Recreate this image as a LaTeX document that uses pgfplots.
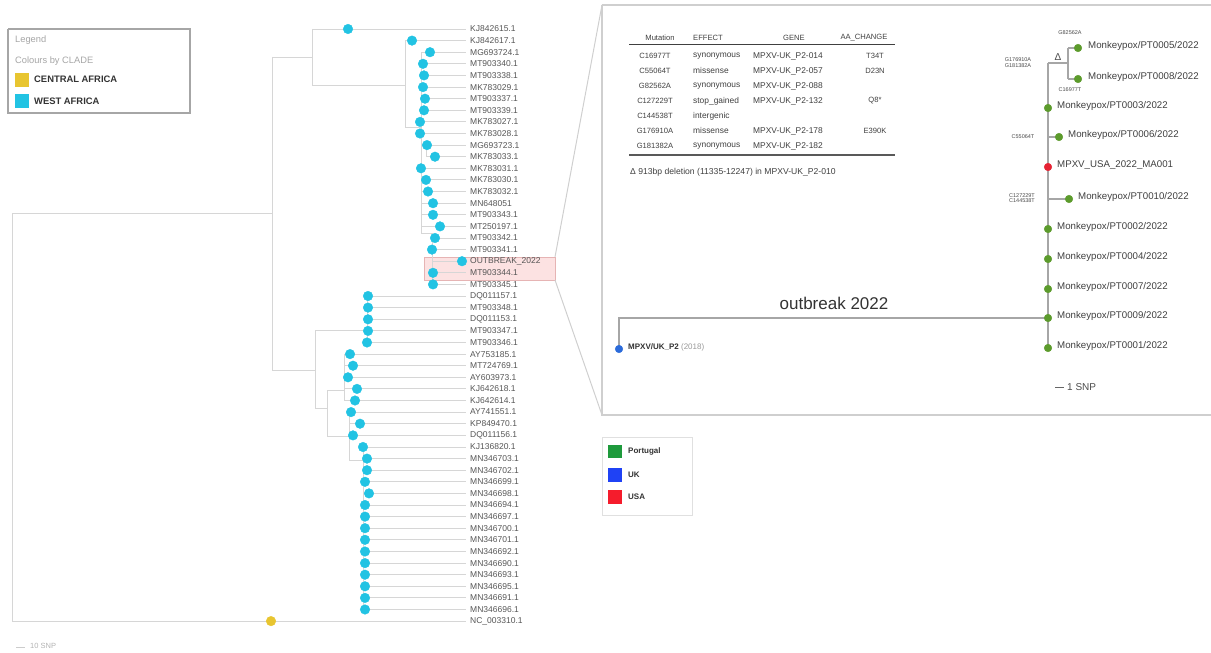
\documentclass[border=0pt]{standalone}
\usepackage{fontspec}
\setmainfont{Liberation Sans}
\usepackage{pgfplots}
\pgfplotsset{compat=1.18}
\usepackage{pgfplotstable}

\definecolor{treeline}{HTML}{D6D6D6}
\definecolor{westafrica}{HTML}{22C3E3}
\definecolor{centralafrica}{HTML}{E8C530}
\definecolor{pinkfill}{HTML}{FCE2E2}
\definecolor{pinkline}{HTML}{E6B4B4}
\definecolor{insetline}{HTML}{CFCFCF}
\definecolor{labelgray}{HTML}{555555}
\definecolor{ptgreen}{HTML}{5C9B2C}
\definecolor{ukblue}{HTML}{2B6BDA}
\definecolor{usared}{HTML}{E62233}
\definecolor{legpt}{HTML}{1E9A3C}
\definecolor{leguk}{HTML}{1F42F5}
\definecolor{legusa}{HTML}{F51C2C}

% tip labels of the big tree (label x, y, name)
\pgfplotstableread{
x y label
470 29.0 KJ842615.1
470 40.6 KJ842617.1
470 52.2 MG693724.1
470 63.8 MT903340.1
470 75.4 MT903338.1
470 87.1 MK783029.1
470 98.7 MT903337.1
470 110.3 MT903339.1
470 121.9 MK783027.1
470 133.5 MK783028.1
470 145.1 MG693723.1
470 156.7 MK783033.1
470 168.3 MK783031.1
470 179.9 MK783030.1
470 191.5 MK783032.1
470 203.2 MN648051
470 214.8 MT903343.1
470 226.4 MT250197.1
470 238.0 MT903342.1
470 249.6 MT903341.1
470 261.2 OUTBREAK\_2022
470 272.8 MT903344.1
470 284.4 MT903345.1
470 296.0 DQ011157.1
470 307.6 MT903348.1
470 319.3 DQ011153.1
470 330.9 MT903347.1
470 342.5 MT903346.1
470 354.1 AY753185.1
470 365.7 MT724769.1
470 377.3 AY603973.1
470 388.9 KJ642618.1
470 400.5 KJ642614.1
470 412.1 AY741551.1
470 423.7 KP849470.1
470 435.4 DQ011156.1
470 447.0 KJ136820.1
470 458.6 MN346703.1
470 470.2 MN346702.1
470 481.8 MN346699.1
470 493.4 MN346698.1
470 505.0 MN346694.1
470 516.6 MN346697.1
470 528.2 MN346700.1
470 539.8 MN346701.1
470 551.5 MN346692.1
470 563.1 MN346690.1
470 574.7 MN346693.1
470 586.3 MN346695.1
470 597.9 MN346691.1
470 609.5 MN346696.1
470 621.1 NC\_003310.1
}\tiplabels

% tip labels of the outbreak tree
\pgfplotstableread{
x y label
1088 46 Monkeypox/PT0005/2022
1088 77 Monkeypox/PT0008/2022
1057 106 Monkeypox/PT0003/2022
1068 135 Monkeypox/PT0006/2022
1057 165 MPXV\_USA\_2022\_MA001
1078 197 Monkeypox/PT0010/2022
1057 227 Monkeypox/PT0002/2022
1057 257 Monkeypox/PT0004/2022
1057 287 Monkeypox/PT0007/2022
1057 316 Monkeypox/PT0009/2022
1057 346 Monkeypox/PT0001/2022
}\insetlabels

\newcommand{\tabfont}{\fontsize{7.6}{8}\selectfont}
\newcommand{\tabwide}{\fontsize{8.4}{9}\selectfont}
\newcommand{\mutfont}{\fontsize{5.5}{6}\selectfont}

\begin{document}
\begin{tikzpicture}
\begin{axis}[
  width=1211pt, height=653pt, scale only axis,
  xmin=0, xmax=1211, ymin=0, ymax=653,
  y dir=reverse,
  hide axis,
  unbounded coords=jump,
]

% highlight of the outbreak row
\addplot[fill=pinkfill, draw=pinkline, line width=0.8pt]
  coordinates {(424,257)(555,257)(555,280)(424,280)(424,257)};

% big tree branches
\addplot[treeline, line width=0.9pt] coordinates {
  (12,213)(12,621) (nan,nan)
  (12,213)(272,213) (nan,nan)
  (12,621)(466,621) (nan,nan)
  (272,57)(272,370) (nan,nan)
  (272,57)(312,57) (nan,nan)
  (312,29)(312,85) (nan,nan)
  (312,29)(466,29) (nan,nan)
  (312,85)(405,85) (nan,nan)
  (405,40.6)(405,127) (nan,nan)
  (405,40.6)(466,40.6) (nan,nan)
  (405,127)(421,127) (nan,nan)
  (421,52.2)(421,233) (nan,nan)
  (421,52.2)(466,52.2) (nan,nan)
  (421,63.8)(466,63.8) (nan,nan)
  (421,75.4)(466,75.4) (nan,nan)
  (421,87.1)(466,87.1) (nan,nan)
  (421,98.7)(466,98.7) (nan,nan)
  (421,110.3)(466,110.3) (nan,nan)
  (421,121.9)(466,121.9) (nan,nan)
  (421,133.5)(466,133.5) (nan,nan)
  (426,145.1)(426,156.7) (nan,nan)
  (421,145.1)(466,145.1) (nan,nan)
  (426,156.7)(466,156.7) (nan,nan)
  (421,168.3)(466,168.3) (nan,nan)
  (421,179.9)(466,179.9) (nan,nan)
  (421,191.5)(466,191.5) (nan,nan)
  (421,203.2)(466,203.2) (nan,nan)
  (421,214.8)(466,214.8) (nan,nan)
  (421,226.4)(466,226.4) (nan,nan)
  (421,233)(432,233) (nan,nan)
  (432,233)(432,284.4) (nan,nan)
  (432,238.0)(466,238.0) (nan,nan)
  (432,249.6)(466,249.6) (nan,nan)
  (432,261.2)(466,261.2) (nan,nan)
  (432,272.8)(466,272.8) (nan,nan)
  (432,284.4)(466,284.4) (nan,nan)
  (272,370)(315,370) (nan,nan)
  (315,330.9)(315,408) (nan,nan)
  (315,330.9)(367,330.9) (nan,nan)
  (367,296.0)(367,342.5) (nan,nan)
  (367,296.0)(466,296.0) (nan,nan)
  (367,307.6)(466,307.6) (nan,nan)
  (367,319.3)(466,319.3) (nan,nan)
  (367,330.9)(466,330.9) (nan,nan)
  (367,342.5)(466,342.5) (nan,nan)
  (315,408)(327,408) (nan,nan)
  (327,390)(327,436) (nan,nan)
  (327,390)(344,390) (nan,nan)
  (344,354.1)(344,400.5) (nan,nan)
  (344,354.1)(466,354.1) (nan,nan)
  (344,365.7)(466,365.7) (nan,nan)
  (344,377.3)(466,377.3) (nan,nan)
  (344,388.9)(466,388.9) (nan,nan)
  (344,400.5)(466,400.5) (nan,nan)
  (327,436)(349,436) (nan,nan)
  (349,412.1)(349,460) (nan,nan)
  (349,412.1)(466,412.1) (nan,nan)
  (349,423.7)(466,423.7) (nan,nan)
  (349,435.4)(466,435.4) (nan,nan)
  (349,460)(363,460) (nan,nan)
  (363,447.0)(363,609.5) (nan,nan)
  (363,447.0)(466,447.0) (nan,nan)
  (363,458.6)(466,458.6) (nan,nan)
  (363,470.2)(466,470.2) (nan,nan)
  (363,481.8)(466,481.8) (nan,nan)
  (363,493.4)(466,493.4) (nan,nan)
  (363,505.0)(466,505.0) (nan,nan)
  (363,516.6)(466,516.6) (nan,nan)
  (363,528.2)(466,528.2) (nan,nan)
  (363,539.8)(466,539.8) (nan,nan)
  (363,551.5)(466,551.5) (nan,nan)
  (363,563.1)(466,563.1) (nan,nan)
  (363,574.7)(466,574.7) (nan,nan)
  (363,586.3)(466,586.3) (nan,nan)
  (363,597.9)(466,597.9) (nan,nan)
  (363,609.5)(466,609.5)
};

% West Africa tips
\addplot[only marks, mark=*, mark size=4.8pt, westafrica, mark options={draw=westafrica}] coordinates {
  (348,29.0)(412,40.6)(430,52.2)(423,63.8)(424,75.4)(423,87.1)(425,98.7)(424,110.3)
  (420,121.9)(420,133.5)(427,145.1)(435,156.7)(421,168.3)(426,179.9)(428,191.5)
  (433,203.2)(433,214.8)(440,226.4)(435,238.0)(432,249.6)(462,261.2)(433,272.8)(433,284.4)
  (368,296.0)(368,307.6)(368,319.3)(368,330.9)(367,342.5)
  (350,354.1)(353,365.7)(348,377.3)(357,388.9)(355,400.5)
  (351,412.1)(360,423.7)(353,435.4)(363,447.0)(367,458.6)(367,470.2)
  (365,481.8)(369,493.4)(365,505.0)(365,516.6)(365,528.2)(365,539.8)
  (365,551.5)(365,563.1)(365,574.7)(365,586.3)(365,597.9)(365,609.5)
};
% Central Africa
\addplot[only marks, mark=*, mark size=4.8pt, centralafrica, mark options={draw=centralafrica}] coordinates {(271,621.1)};

\addplot[only marks, mark=none, nodes near coords, point meta=explicit symbolic,
  nodes near coords align={anchor=west},
  every node near coord/.append style={inner sep=0pt, text=labelgray, font=\fontsize{8.5}{9}\selectfont}]
  table[x=x, y=y, meta=label] {\tiplabels};

% connectors to the inset
\addplot[insetline, line width=1pt] coordinates {(555,257)(602,5) (nan,nan) (555,280)(602,415)};

% inset frame
\addplot[draw=insetline, fill=white, line width=1.6pt]
  coordinates {(602,5)(1250,5)(1250,415)(602,415)(602,5)};

% mutation table rules
\addplot[black!75, line width=0.7pt] coordinates {(629,44)(895,44)};
\addplot[black!65, line width=1.5pt] coordinates {(629,155)(895,155)};

% outbreak tree branches
\addplot[black!35, line width=1.3pt] coordinates {
  (619,349)(619,318)(1048,318) (nan,nan)
  (1048,63)(1048,348) (nan,nan)
  (1048,63)(1068,63) (nan,nan)
  (1068,48)(1068,79) (nan,nan)
  (1068,48)(1078,48) (nan,nan)
  (1068,79)(1078,79) (nan,nan)
  (1048,137)(1059,137) (nan,nan)
  (1048,199)(1069,199)
};
\addplot[only marks, mark=*, mark size=3.8pt, ptgreen, mark options={draw=ptgreen}] coordinates {
  (1078,48)(1078,79)(1048,108)(1059,137)(1069,199)(1048,229)(1048,259)(1048,289)(1048,318)(1048,348)
};
\addplot[only marks, mark=*, mark size=3.8pt, usared, mark options={draw=usared}] coordinates {(1048,167)};
\addplot[only marks, mark=*, mark size=3.8pt, ukblue, mark options={draw=ukblue}] coordinates {(619,349)};

\addplot[only marks, mark=none, nodes near coords, point meta=explicit symbolic,
  nodes near coords align={anchor=west},
  every node near coord/.append style={inner sep=0pt, text=black!75, font=\fontsize{9.7}{10}\selectfont}]
  table[x=x, y=y, meta=label] {\insetlabels};

% scale bars
\addplot[black!60, line width=1pt] coordinates {(1055,387)(1064,387)};
\addplot[black!20, line width=1pt] coordinates {(16,647)(25,647)};

% country legend frame
\addplot[draw=black!12, fill=white, line width=1pt]
  coordinates {(602,437)(692,437)(692,515)(602,515)(602,437)};
% clade legend frame
\addplot[draw=black!35, fill=white, line width=1.5pt]
  coordinates {(8,29)(190,29)(190,113)(8,113)(8,29)};

\end{axis}

\begin{scope}[x=1pt, y=-1pt, shift={(0,653pt)}]
% table text
\begin{scope}[every node/.style={inner sep=0pt, text=black!75, font=\tabfont}]
\node[anchor=center] at (660,38) {Mutation};
\node[anchor=west] at (693,38) {EFFECT};
\node[anchor=center] at (794,38) {GENE};
\node[anchor=center] at (864,38) {AA\_CHANGE};
\foreach \y/\m/\e/\g/\a in {
  56/C16977T/synonymous/MPXV-UK\_P2-014/T34T,
  71/C55064T/missense/MPXV-UK\_P2-057/D23N,
  86/G82562A/synonymous/MPXV-UK\_P2-088/,
  101/C127229T/stop\_gained/MPXV-UK\_P2-132/Q8*,
  116/C144538T/intergenic//,
  131/G176910A/missense/MPXV-UK\_P2-178/E390K,
  146/G181382A/synonymous/MPXV-UK\_P2-182/}{
  \node[anchor=center] at (655,\y) {\m};
  \node[anchor=west, font=\tabwide] at (693,\y) {\e};
  \node[anchor=west, font=\tabwide] at (753,\y) {\g};
  \node[anchor=center] at (875,\y) {\a};
}
\node[anchor=west, font=\fontsize{8.6}{9}\selectfont] at (630,172) {Δ 913bp deletion (11335-12247) in MPXV-UK\_P2-010};
\end{scope}

% mutation annotations on the outbreak tree
\begin{scope}[every node/.style={inner sep=0pt, text=black!70, font=\mutfont, align=center}]
\node at (1070,33) {G82562A};
\node at (1070,90) {C16977T};
\node at (1018,62.5) {G176910A\\[-0.5pt]G181382A};
\node at (1023,137) {C55064T};
\node at (1022,198) {C127229T\\[-0.5pt]C144538T};
\end{scope}
\node[inner sep=0pt, text=black!70, font=\fontsize{10}{10}\selectfont] at (1058,57) {Δ};
\node[inner sep=0pt, text=black!80, font=\fontsize{17}{18}\selectfont] at (834,303) {outbreak 2022};
\node[anchor=west, inner sep=0pt, text=black!80, font=\bfseries\fontsize{8}{9}\selectfont] at (628,347) {MPXV/UK\_P2 \mdseries\color{black!40}(2018)};
\node[anchor=west, inner sep=0pt, text=black!70, font=\fontsize{10}{10}\selectfont] at (1067,387) {1 SNP};
\node[anchor=west, inner sep=0pt, text=black!30, font=\fontsize{7.5}{8}\selectfont] at (30,646) {10 SNP};

% clade legend
\node[anchor=west, inner sep=0pt, text=black!35, font=\fontsize{9.3}{10}\selectfont] at (15,40) {Legend};
\node[anchor=west, inner sep=0pt, text=black!35, font=\fontsize{9.3}{10}\selectfont] at (15,61) {Colours by CLADE};
\fill[centralafrica] (15,73) rectangle (29,87);
\fill[westafrica] (15,94) rectangle (29,108);
\node[anchor=west, inner sep=0pt, text=black!80, font=\bfseries\fontsize{9.4}{10}\selectfont] at (34,79) {CENTRAL AFRICA};
\node[anchor=west, inner sep=0pt, text=black!80, font=\bfseries\fontsize{9.4}{10}\selectfont] at (34,101) {WEST AFRICA};

% country legend
\fill[legpt] (608,445) rectangle (622,458);
\fill[leguk] (608,468) rectangle (622,482);
\fill[legusa] (608,490) rectangle (622,504);
\begin{scope}[every node/.style={anchor=west, inner sep=0pt, text=black!80, font=\bfseries\fontsize{8}{8}\selectfont}]
\node at (628,451) {Portugal};
\node at (628,475) {UK};
\node at (628,497) {USA};
\end{scope}
\end{scope}

\pgfresetboundingbox
\path[use as bounding box] (current axis.south west) rectangle (current axis.north east);
\end{tikzpicture}
\end{document}
